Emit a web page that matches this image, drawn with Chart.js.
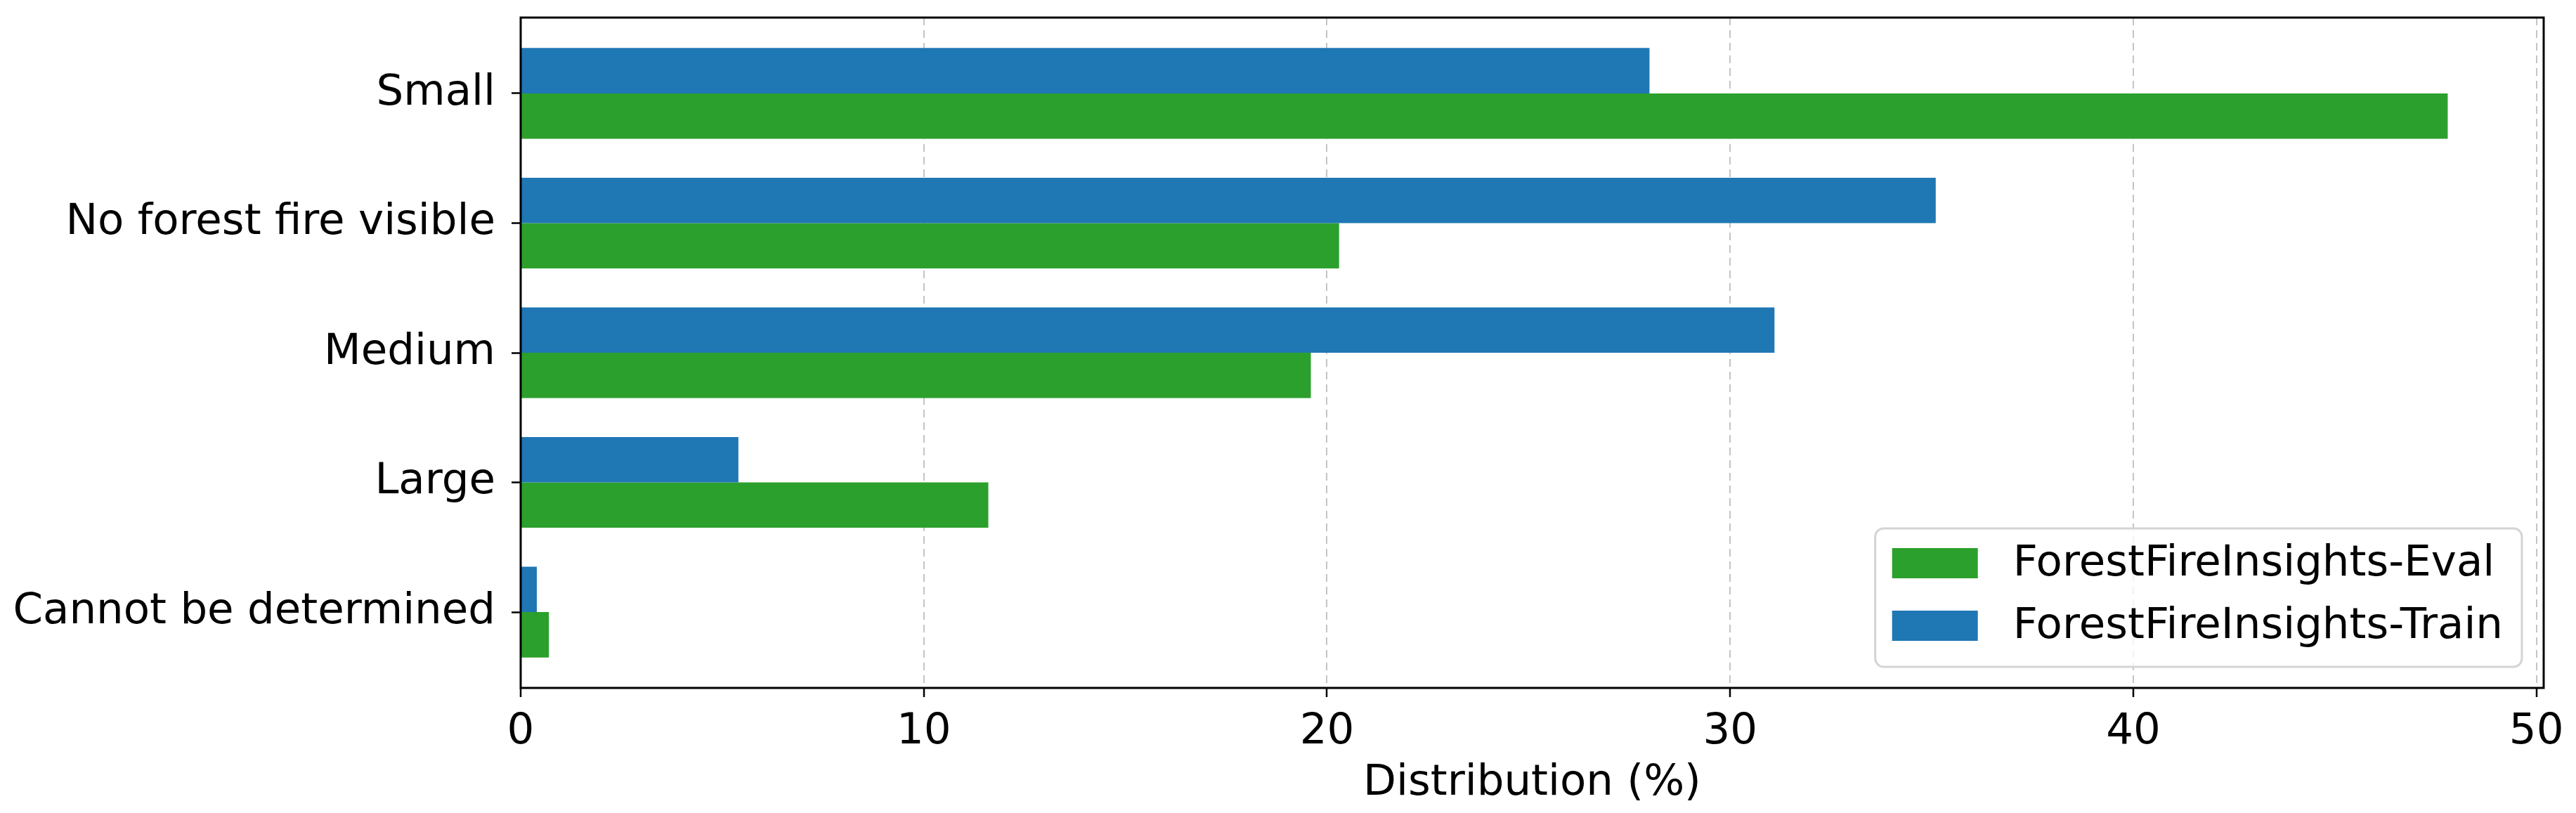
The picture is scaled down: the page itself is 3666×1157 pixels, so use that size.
<!DOCTYPE html>
<html>
<head>
<meta charset="utf-8">
<script src="https://cdn.jsdelivr.net/npm/chart.js@4.4.1/dist/chart.umd.min.js"></script>
<style>
  html, body { margin: 0; padding: 0; background: #fff; }
  #wrap { width: 3666px; height: 1157px; }
</style>
</head>
<body>
<div id="wrap"><canvas id="barChart" width="3666" height="1157"></canvas></div>
<script>
const categories = ['Small', 'No forest fire visible', 'Medium', 'Large', 'Cannot be determined'];
const trainValues = [28.0, 35.1, 31.1, 5.4, 0.4];
const evalValues = [47.8, 20.3, 19.6, 11.6, 0.7];
const xTicks = [0, 10, 20, 30, 40, 50];

const blue = '#1f77b4';
const green = '#2ca02c';

Chart.defaults.font.family = 'DejaVu Sans';
Chart.defaults.color = '#000';

// black box round the plot area
const framePlugin = {
  id: 'frame',
  afterDraw(chart) {
    const { ctx, chartArea: a } = chart;
    ctx.save();
    ctx.strokeStyle = '#000';
    ctx.lineWidth = 3;
    ctx.strokeRect(a.left, a.top, a.right - a.left, a.bottom - a.top);
    ctx.restore();
  }
};

// matplotlib style legend in the lower right corner
const boxLegend = {
  id: 'boxLegend',
  afterDraw(chart) {
    const { ctx, chartArea: a } = chart;
    const items = chart.data.datasets.slice().reverse();
    ctx.save();
    ctx.font = '61px "DejaVu Sans"';
    const textW = Math.max(...items.map(d => ctx.measureText(d.label).width));
    const padL = 24, sw = 122, sh = 43, gap = 50, padR = 27;
    const w = padL + sw + gap + textW + padR;
    const h = 197;
    const x = a.right - 31 - w;
    const y = a.bottom - 30 - h;
    ctx.beginPath();
    ctx.roundRect(x, y, w, h, 12);
    ctx.fillStyle = 'rgba(255,255,255,0.8)';
    ctx.fill();
    ctx.lineWidth = 3;
    ctx.strokeStyle = '#d4d4d4';
    ctx.stroke();
    items.forEach((d, i) => {
      const cy = y + 49.5 + i * 89;
      ctx.fillStyle = d.backgroundColor;
      ctx.fillRect(x + padL, cy - sh / 2, sw, sh);
      ctx.fillStyle = '#000';
      ctx.textBaseline = 'middle';
      ctx.textAlign = 'left';
      ctx.fillText(d.label, x + padL + sw + gap, cy + 2);
    });
    ctx.restore();
  }
};

// no extra room for half-labels sticking out of the axes
const noPad = s => {
  s.paddingTop = 0;
  s.paddingBottom = 0;
  s.paddingLeft = 0;
  s.paddingRight = 0;
};

const dataBar = {
  datasets: [
    {
      label: 'ForestFireInsights-Train',
      backgroundColor: blue,
      data: trainValues.map((v, i) => ({ x: v, y: i })),
    },
    {
      label: 'ForestFireInsights-Eval',
      backgroundColor: green,
      data: evalValues.map((v, i) => ({ x: v, y: i })),
    }
  ]
};

const configBar = {
  type: 'bar',
  data: dataBar,
  options: {
    indexAxis: 'y',
    responsive: false,
    animation: false,
    devicePixelRatio: 1,
    categoryPercentage: 0.7,
    barPercentage: 1.0,
    borderWidth: 0,
    layout: { padding: { top: 25, right: 46, left: 0, bottom: 0 } },
    plugins: {
      legend: { display: false },
      tooltip: { enabled: false }
    },
    scales: {
      x: {
        type: 'linear',
        min: 0,
        max: 50.18,
        z: 1,
        afterBuildTicks: s => { s.ticks = xTicks.map(v => ({ value: v })); },
        grid: {
          color: '#c4c4c4',
          lineWidth: 2,
          tickColor: '#000',
          tickWidth: 2.5,
          tickBorderDash: [],
          tickLength: 13
        },
        border: { display: false, dash: [11, 7] },
        ticks: { font: { size: 61 }, padding: 14, maxRotation: 0 },
        title: {
          display: true,
          text: 'Distribution (%)',
          font: { size: 61 },
          padding: { top: 0, bottom: 5 }
        },
        afterFit: s => { s.height = 178; noPad(s); }
      },
      y: {
        type: 'linear',
        min: -0.585,
        max: 4.585,
        reverse: true,
        offset: false,
        afterBuildTicks: s => { s.ticks = categories.map((c, i) => ({ value: i })); },
        grid: {
          offset: false,
          drawOnChartArea: false,
          tickColor: '#000',
          tickWidth: 2.5,
          tickLength: 13
        },
        border: { display: false },
        ticks: {
          font: { size: 61 },
          padding: 23,
          autoSkip: false,
          callback: v => categories[v]
        },
        afterFit: s => { s.width = 741; noPad(s); }
      }
    }
  },
  plugins: [framePlugin, boxLegend]
};

const barChart = new Chart(
  document.getElementById('barChart'),
  configBar
);
</script>
</body>
</html>
